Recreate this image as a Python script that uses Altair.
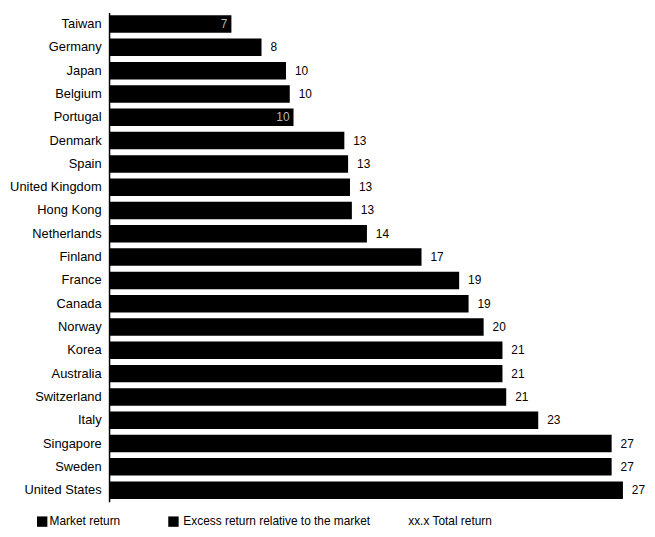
import altair as alt
import pandas as pd

countries = ["Taiwan", "Germany", "Japan", "Belgium", "Portugal", "Denmark", "Spain",
             "United Kingdom", "Hong Kong", "Netherlands", "Finland", "France", "Canada",
             "Norway", "Korea", "Australia", "Switzerland", "Italy", "Singapore", "Sweden",
             "United States"]
# total return
total_return = [6.5, 8.1, 9.4, 9.6, 9.8, 12.5, 12.7, 12.8, 12.9, 13.7, 16.6, 18.6, 19.1,
                19.9, 20.9, 20.9, 21.1, 22.8, 26.7, 26.7, 27.3]
# printed total return labels
total_labels = ["7", "8", "10", "10", "10", "13", "13", "13", "13", "14", "17", "19", "19",
                "20", "21", "21", "21", "23", "27", "27", "27"]
# labels printed inside the bar on the scan
label_inside = ["Taiwan", "Portugal"]

legend_labels = ["Market return", "Excess return relative to the market", "xx.x Total return"]

df = pd.DataFrame({"country": countries, "total": total_return, "label": total_labels})
df["inside"] = df["country"].isin(label_inside)

FONT = "Liberation Sans"

y_enc = alt.Y("country:N", sort=countries, title=None,
              scale=alt.Scale(paddingInner=0.25, paddingOuter=0.125),
              axis=alt.Axis(ticks=False, domain=True, domainColor="black", domainWidth=1.5,
                            labelFont=FONT, labelFontSize=13, labelColor="black",
                            labelPadding=8, grid=False))
x_scale = alt.Scale(domain=[0, 28], nice=False)

base = alt.Chart(df)

bars = base.mark_bar(color="black").encode(
    x=alt.X("total:Q", scale=x_scale, axis=None),
    y=y_enc,
)

labels_out = base.transform_filter("!datum.inside").mark_text(
    align="left", baseline="middle", dx=9, font=FONT, fontSize=12, color="black"
).encode(x=alt.X("total:Q", scale=x_scale), y=alt.Y("country:N", sort=countries), text="label:N")

labels_in = base.transform_filter("datum.inside").mark_text(
    align="right", baseline="middle", dx=-4, font=FONT, fontSize=12, color="#bbbbbb"
).encode(x=alt.X("total:Q", scale=x_scale), y=alt.Y("country:N", sort=countries), text="label:N")

leg_df = pd.DataFrame({"label": legend_labels})
leg_y = 513


def leg_item(i, x_text, x_square=None):
    src = alt.Chart(leg_df).transform_filter(f"datum.label == '{legend_labels[i]}'")
    layers = []
    if x_square is not None:
        layers.append(src.mark_square(color="black", size=110, opacity=1).encode(
            x=alt.value(x_square), y=alt.value(leg_y + 1)))
    layers.append(src.mark_text(align="left", baseline="middle", font=FONT, fontSize=12,
                                color="black").encode(
        x=alt.value(x_text), y=alt.value(leg_y), text="label:N"))
    return layers


legend_layers = leg_item(0, -60, -67.5) + leg_item(1, 75, 65) + leg_item(2, 302)

chart = alt.layer(bars, labels_out, labels_in, *legend_layers).properties(
    width=532, height=494,
    background="white",
    autosize=alt.AutoSizeParams(type="none"),
    padding={"left": 102, "top": 2, "right": 11, "bottom": 25},
).configure_view(strokeWidth=0)

chart.save("out.html", embed_options={"renderer": "svg", "actions": False})
